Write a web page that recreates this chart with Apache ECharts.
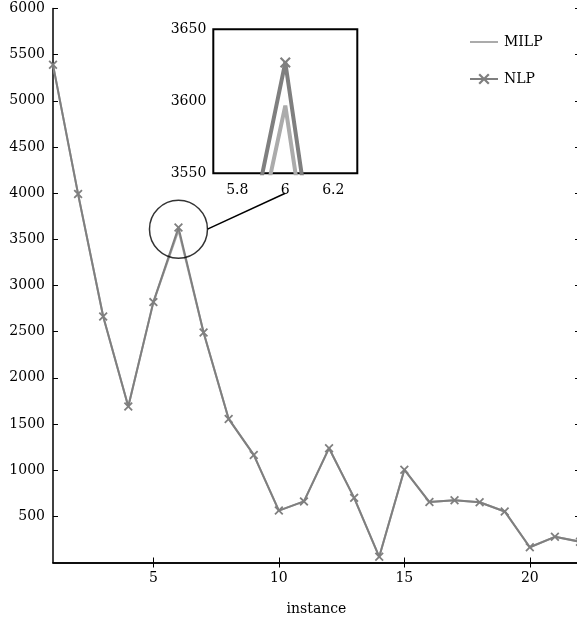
<!DOCTYPE html>
<html>
<head>
<meta charset="utf-8">
<script src="https://cdn.jsdelivr.net/npm/echarts@6/dist/echarts.min.js"></script>
<style>
  html, body { margin: 0; padding: 0; background: #fff; }
  #chart { width: 577px; height: 619px; }
</style>
</head>
<body>
<div id="chart"></div>
<script>
// Objective value per instance for the two formulations
const instances = [1, 2, 3, 4, 5, 6, 7, 8, 9, 10, 11, 12, 13, 14, 15, 16, 17, 18, 19, 20, 21, 22];
const nlpValues = [5390, 3990, 2665, 1690, 2820, 3627, 2490, 1555, 1165, 562, 662, 1238, 700, 62, 1005, 655, 673, 652, 553, 165, 278, 225];
const milpValues = [5390, 3990, 2665, 1690, 2820, 3597, 2490, 1555, 1165, 562, 662, 1238, 700, 62, 1005, 655, 673, 652, 553, 165, 278, 225];

const xTicks = [5, 10, 15, 20];
const yTicks = [500, 1000, 1500, 2000, 2500, 3000, 3500, 4000, 4500, 5000, 5500, 6000];
const zoomXTicks = [5.8, 6, 6.2];
const zoomYTicks = [3550, 3600, 3650];

// point that the magnifier circle marks
const spotCenter = [6, 3610];

const FONT = 'DejaVu Serif';
const NLP_COLOR = '#7f7f7f';
const MILP_COLOR = '#ababab';
const CROSS = 'path://M0,1.4L1.4,0L5,3.6L8.6,0L10,1.4L6.4,5L10,8.6L8.6,10L5,6.4L1.4,10L0,8.6L3.6,5Z';
const DASH = 'path://M0,0H28V2H0Z';

const pairs = arr => instances.map((x, i) => [x, arr[i]]);
const plain = v => String(Math.round(v * 10) / 10);

const chart = echarts.init(document.getElementById('chart'), null, { renderer: 'canvas' });

const labelStyle = { color: '#000', fontFamily: FONT, fontSize: 14 };
const axisLine = { show: true, lineStyle: { color: '#000', width: 1.5 } };

const option = {
  animation: false,
  backgroundColor: '#fff',
  textStyle: { fontFamily: FONT },
  grid: [
    { left: 53, top: 8.5, width: 527, height: 554, containLabel: false, outerBoundsMode: 'none' },
    { left: 213.3, top: 29.3, width: 144, height: 144, show: true, outerBoundsMode: 'none',
      backgroundColor: '#fff', borderColor: '#000', borderWidth: 2, z: 5 }
  ],
  legend: {
    data: [{ name: 'MILP', icon: DASH, itemStyle: { color: MILP_COLOR } }, { name: 'NLP' }],
    orient: 'vertical',
    left: 464,
    top: 30,
    itemWidth: 28,
    itemHeight: 14,
    itemGap: 23,
    textStyle: { color: '#000', fontFamily: FONT, fontSize: 14, padding: [0, 0, 0, 1] },
    inactiveColor: '#ccc'
  },
  xAxis: [
    { type: 'value', gridIndex: 0, min: 1, max: 22, position: 'bottom',
      name: 'instance', nameLocation: 'middle', nameGap: 40,
      nameTextStyle: labelStyle,
      axisLine: axisLine,
      axisTick: { inside: true, length: 5, customValues: xTicks, lineStyle: { color: '#000', width: 1 } },
      axisLabel: Object.assign({ customValues: xTicks, margin: 9, formatter: plain }, labelStyle),
      splitLine: { show: false } },
    { type: 'value', gridIndex: 0, min: 1, max: 22, position: 'top',
      axisLine: axisLine,
      axisTick: { inside: true, length: 5, customValues: xTicks, lineStyle: { color: '#000', width: 1 } },
      axisLabel: { show: false },
      splitLine: { show: false } },
    { type: 'value', gridIndex: 1, min: 5.7, max: 6.3, position: 'bottom',
      axisLine: { show: false },
      axisTick: { show: false },
      axisLabel: Object.assign({ customValues: zoomXTicks, margin: 10, formatter: plain }, labelStyle),
      splitLine: { show: false } }
  ],
  yAxis: [
    { type: 'value', gridIndex: 0, min: 0, max: 6000, position: 'left',
      axisLine: axisLine,
      axisTick: { inside: true, length: 5, customValues: yTicks, lineStyle: { color: '#000', width: 1 } },
      axisLabel: Object.assign({ customValues: yTicks, margin: 8, formatter: plain }, labelStyle),
      splitLine: { show: false } },
    { type: 'value', gridIndex: 0, min: 0, max: 6000, position: 'right',
      axisLine: axisLine,
      axisTick: { inside: true, length: 5, customValues: yTicks, lineStyle: { color: '#000', width: 1 } },
      axisLabel: { show: false },
      splitLine: { show: false } },
    { type: 'value', gridIndex: 1, min: 3550, max: 3650, position: 'left',
      axisLine: { show: false },
      axisTick: { show: false },
      axisLabel: Object.assign({ customValues: zoomYTicks, margin: 7, formatter: plain }, labelStyle),
      splitLine: { show: false } }
  ],
  series: [
    { name: 'MILP', type: 'line', xAxisIndex: 0, yAxisIndex: 0, data: pairs(milpValues),
      symbol: 'none', clip: false, z: 2,
      lineStyle: { color: MILP_COLOR, width: 2 }, itemStyle: { color: MILP_COLOR } },
    { name: 'NLP', type: 'line', xAxisIndex: 0, yAxisIndex: 0, data: pairs(nlpValues),
      symbol: CROSS, symbolSize: 9, showAllSymbol: true, clip: false, z: 3,
      lineStyle: { color: NLP_COLOR, width: 2 }, itemStyle: { color: NLP_COLOR } },
    { name: 'MILP', type: 'line', xAxisIndex: 2, yAxisIndex: 2, data: pairs(milpValues),
      symbol: 'none', clip: true, z: 6,
      lineStyle: { color: MILP_COLOR, width: 4 }, itemStyle: { color: MILP_COLOR } },
    { name: 'NLP', type: 'line', xAxisIndex: 2, yAxisIndex: 2, data: pairs(nlpValues),
      symbol: CROSS, symbolSize: 11, showAllSymbol: true, clip: true, z: 7,
      lineStyle: { color: NLP_COLOR, width: 4 }, itemStyle: { color: NLP_COLOR } },
    { name: 'spot', type: 'scatter', xAxisIndex: 0, yAxisIndex: 0, data: [spotCenter],
      symbol: 'circle', symbolSize: 58, clip: false, z: 4, silent: true,
      itemStyle: { color: 'rgba(0,0,0,0)', borderColor: '#000', borderWidth: 1.5 } }
  ]
};

chart.setOption(option);

// connector from the magnifier circle to the zoomed view
const c = chart.convertToPixel({ gridIndex: 0 }, spotCenter);
const e = chart.convertToPixel({ gridIndex: 1 }, [6, 3550]);
chart.setOption({
  graphic: [{
    type: 'line', z: 10, silent: true,
    shape: { x1: c[0] + 29, y1: c[1], x2: e[0], y2: e[1] + 20 },
    style: { stroke: '#000', lineWidth: 1.5 }
  }]
});
</script>
</body>
</html>
